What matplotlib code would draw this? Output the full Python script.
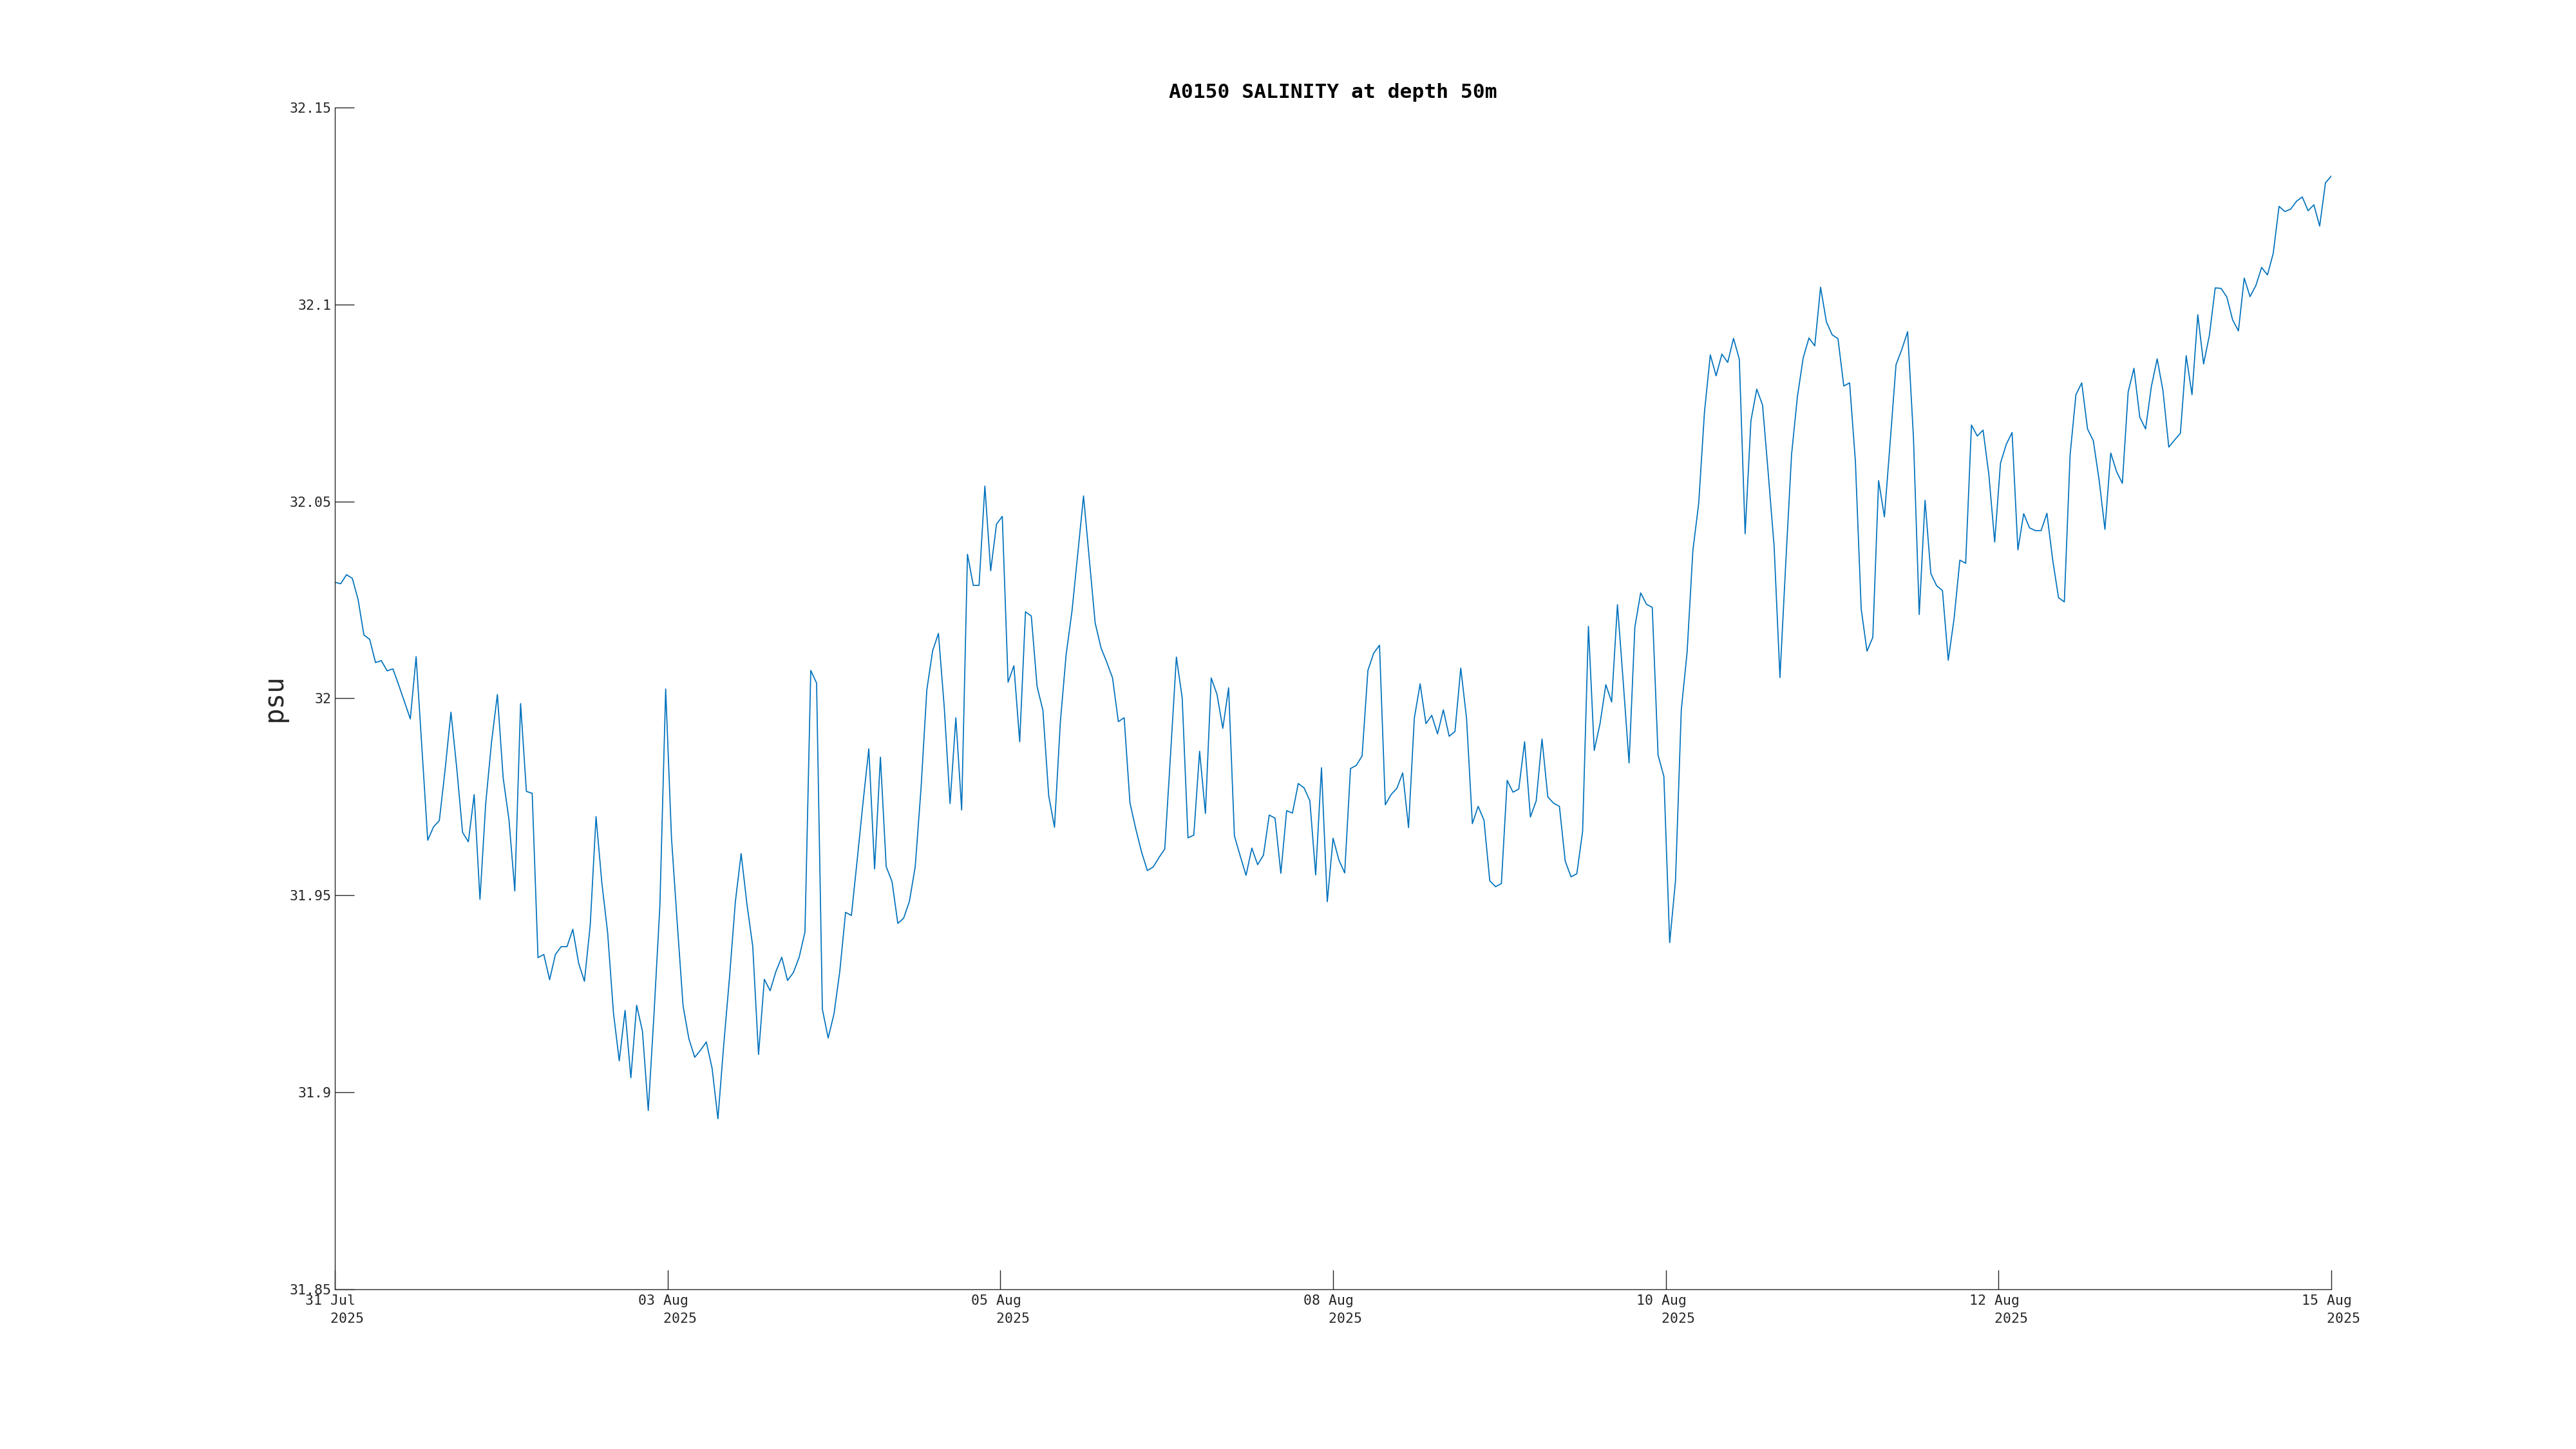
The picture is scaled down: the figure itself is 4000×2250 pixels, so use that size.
import matplotlib
matplotlib.use('Agg')
import matplotlib.pyplot as plt
import numpy as np
import pandas as pd

# hourly salinity at 50 m
start = '2025-07-31 20:00'
salinity = [
    32.0295, 32.0291, 32.0314, 32.0305, 32.0251, 32.0161, 32.0150, 32.0091, 32.0096, 32.0070,
    32.0075, 32.0034, 31.9991, 31.9948, 32.0106, 31.9873, 31.9640, 31.9674, 31.9690, 31.9820,
    31.9965, 31.9823, 31.9660, 31.9636, 31.9756, 31.9490, 31.9735, 31.9890, 32.0010, 31.9798,
    31.9692, 31.9511, 31.9987, 31.9764, 31.9759, 31.9342, 31.9350, 31.9286, 31.9350, 31.9370,
    31.9370, 31.9414, 31.9328, 31.9282, 31.9425, 31.9700, 31.9532, 31.9405, 31.9202, 31.9080,
    31.9208, 31.9037, 31.9221, 31.9155, 31.8954, 31.9202, 31.9473, 32.0024, 31.9646, 31.9428,
    31.9219, 31.9136, 31.9089, 31.9107, 31.9128, 31.9061, 31.8933, 31.9120, 31.9292, 31.9483,
    31.9606, 31.9478, 31.9371, 31.9096, 31.9287, 31.9258, 31.9307, 31.9343, 31.9284, 31.9304,
    31.9343, 31.9407, 32.0071, 32.0039, 31.9211, 31.9138, 31.9199, 31.9307, 31.9457, 31.9449,
    31.9590, 31.9735, 31.9872, 31.9567, 31.9851, 31.9573, 31.9535, 31.9429, 31.9442, 31.9485,
    31.9573, 31.9772, 32.0022, 32.0121, 32.0165, 31.9978, 31.9733, 31.9951, 31.9717, 32.0366,
    32.0287, 32.0287, 32.0539, 32.0324, 32.0442, 32.0462, 32.0041, 32.0083, 31.9890, 32.0220,
    32.0209, 32.0030, 31.9970, 31.9753, 31.9673, 31.9939, 32.0111, 32.0220, 32.0366, 32.0514,
    32.0353, 32.0192, 32.0129, 32.0092, 32.0052, 31.9941, 31.9951, 31.9735, 31.9669, 31.9610,
    31.9563, 31.9572, 31.9596, 31.9618, 31.9859, 32.0105, 32.0001, 31.9646, 31.9653, 31.9866,
    31.9708, 32.0052, 32.0010, 31.9924, 32.0027, 31.9651, 31.9600, 31.9551, 31.9620, 31.9578,
    31.9602, 31.9704, 31.9696, 31.9556, 31.9715, 31.9709, 31.9784, 31.9773, 31.9740, 31.9552,
    31.9824, 31.9484, 31.9645, 31.9590, 31.9557, 31.9822, 31.9830, 31.9854, 32.0071, 32.0115,
    32.0135, 31.9730, 31.9756, 31.9772, 31.9811, 31.9672, 31.9950, 32.0037, 31.9936, 31.9957,
    31.9910, 31.9971, 31.9904, 31.9916, 32.0077, 31.9949, 31.9682, 31.9726, 31.9691, 31.9537,
    31.9522, 31.9530, 31.9792, 31.9762, 31.9770, 31.9890, 31.9699, 31.9740, 31.9897, 31.9750,
    31.9734, 31.9726, 31.9587, 31.9547, 31.9555, 31.9663, 32.0183, 31.9868, 31.9936, 32.0035,
    31.9991, 32.0238, 32.0041, 31.9836, 32.0181, 32.0268, 32.0239, 32.0231, 31.9856, 31.9802,
    31.9380, 31.9537, 31.9971, 32.0117, 32.0376, 32.0495, 32.0728, 32.0872, 32.0819, 32.0874,
    32.0853, 32.0914, 32.0861, 32.0418, 32.0705, 32.0785, 32.0745, 32.0568, 32.0385, 32.0053,
    32.0343, 32.0619, 32.0765, 32.0864, 32.0915, 32.0895, 32.1044, 32.0956, 32.0923, 32.0913,
    32.0793, 32.0801, 32.0602, 32.0227, 32.0120, 32.0155, 32.0553, 32.0461, 32.0652, 32.0847,
    32.0886, 32.0931, 32.0664, 32.0213, 32.0503, 32.0317, 32.0286, 32.0274, 32.0097, 32.0202,
    32.0351, 32.0343, 32.0694, 32.0666, 32.0681, 32.0568, 32.0397, 32.0597, 32.0645, 32.0675,
    32.0377, 32.0469, 32.0433, 32.0426, 32.0426, 32.0470, 32.0351, 32.0256, 32.0245, 32.0619,
    32.0771, 32.0801, 32.0684, 32.0654, 32.0554, 32.0429, 32.0623, 32.0576, 32.0546, 32.0778,
    32.0838, 32.0714, 32.0684, 32.0792, 32.0862, 32.0781, 32.0638, 32.0656, 32.0673, 32.0870,
    32.0771, 32.0974, 32.0849, 32.0922, 32.1042, 32.1041, 32.1019, 32.0961, 32.0933, 32.1067,
    32.1020, 32.1048, 32.1094, 32.1075, 32.1130, 32.1249, 32.1236, 32.1242, 32.1262, 32.1273,
    32.1238, 32.1253, 32.1199, 32.1309, 32.1326,
]

x_tick_labels = ['31 Jul', '03 Aug', '05 Aug', '08 Aug', '10 Aug', '12 Aug', '15 Aug']
year = '2025'
y_ticks = [31.85, 31.9, 31.95, 32.0, 32.05, 32.1, 32.15]
y_tick_labels = ['31.85', '31.9', '31.95', '32', '32.05', '32.1', '32.15']

times = pd.date_range(start, periods=len(salinity), freq='h').to_pydatetime()
x_ticks = pd.date_range(times[0], times[-1], periods=len(x_tick_labels)).to_pydatetime()

axis_grey = '#262626'
plt.rcParams['font.family'] = ['DejaVu Sans Mono', 'DejaVu Sans']

fig = plt.figure(figsize=(16, 9), dpi=250)
ax = fig.add_axes([0.13, 0.1102, 0.775, 0.8156])
ax.plot(times, salinity, color='#0072BD', linewidth=0.5)

ax.set_xlim(times[0], times[-1])
ax.set_ylim(y_ticks[0], y_ticks[-1])

ax.set_xticks(x_ticks)
ax.set_xticklabels([lab + '\n   ' + year for lab in x_tick_labels],
                   multialignment='left', linespacing=1.45)
ax.set_yticks(y_ticks)
ax.set_yticklabels(y_tick_labels)

for side in ['top', 'right']:
    ax.spines[side].set_visible(False)
for side in ['left', 'bottom']:
    ax.spines[side].set_color(axis_grey)
    ax.spines[side].set_linewidth(0.4)

ax.tick_params(axis='both', direction='in', length=8.6, width=0.4,
               color=axis_grey, labelcolor=axis_grey, labelsize=6.2)
ax.tick_params(axis='y', pad=1.5)
ax.tick_params(axis='x', pad=2.4)

ax.set_title('A0150 SALINITY at depth 50m', fontsize=9.0, fontweight='bold',
             color='black', pad=4.3)
ax.set_ylabel('psu', fontsize=11.8, color=axis_grey)
ax.yaxis.set_label_coords(-0.0303, 0.5)
ax.yaxis.label.set_verticalalignment('center')

fig.savefig('out.png', dpi=250)
